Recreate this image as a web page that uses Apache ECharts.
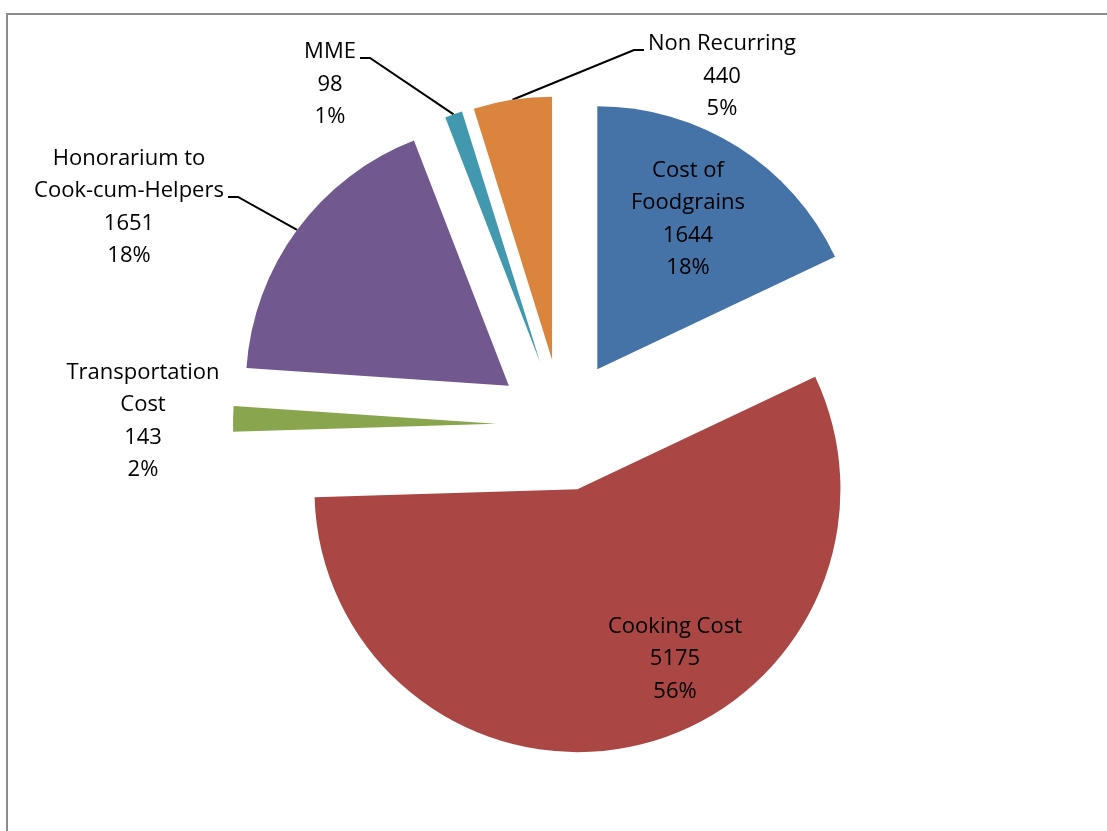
<!DOCTYPE html>
<html>
<head>
<meta charset="utf-8">
<title>MDM cost breakup</title>
<script src="https://cdn.jsdelivr.net/npm/echarts@6/dist/echarts.min.js"></script>
<style>
    html, body { margin: 0; padding: 0; background: #fff; }
    #chart { width: 1107px; height: 831px; }
</style>
</head>
<body>
<div id="chart"></div>
<script>
// 数据
const categories = ['Cost of\nFoodgrains', 'Cooking Cost', 'Transportation\nCost', 'Honorarium to\nCook-cum-Helpers', 'MME', 'Non Recurring'];
const values = [1644, 5175, 143, 1651, 98, 440];
const percents = ['18%', '56%', '2%', '18%', '1%', '5%'];
const colors = ['#4572A7', '#AA4643', '#89A54E', '#71588F', '#4198AF', '#DB843D'];

// 布局
const pieCenter = [562, 425];
const pieRadius = 263;
const explode = 66;
const labelPos = [[688, 219], [675, 659], [143, 421], [129, 197], [330, 58], [722, 50]];
// 标签顶部空行（高、宽），使引导线接在第一行附近并与文字留出间距
const labelGap = [0, 0, 0, 20, 53, 53];
const labelGapWidth = [0, 0, 0, 198, 60, 156];
const showLine = [false, false, false, true, true, true];

const chart = echarts.init(document.getElementById('chart'));

// 每个扇区单独一个系列，沿中心角方向偏移
const total = values.reduce((a, b) => a + b, 0);
let cum = 0;
const series = values.map((v, i) => {
    const mid = (cum + v / 2) / total * Math.PI * 2;
    cum += v;
    const center = [pieCenter[0] + explode * Math.sin(mid), pieCenter[1] - explode * Math.cos(mid)];
    return {
        type: 'pie',
        center: center,
        radius: pieRadius,
        startAngle: 90,
        clockwise: true,
        avoidLabelOverlap: false,
        silent: true,
        itemStyle: { borderWidth: 0 },
        label: {
            fontFamily: '"Open Sans", sans-serif',
            fontSize: 22,
            lineHeight: 32.5,
            color: '#000',
            formatter: p => {
                const text = p.name + '\n' + p.value + '\n' + percents[p.dataIndex];
                return labelGap[p.dataIndex] ? '{gap| }\n' + text : text;
            },
            rich: {
                gap: { fontSize: 1, lineHeight: labelGap[i], width: labelGapWidth[i] }
            }
        },
        labelLine: {
            length: 20,
            length2: 10,
            lineStyle: { color: '#000', width: 2 }
        },
        labelLayout: function (params) {
            if (params.dataIndex !== i) return {};
            const p = labelPos[i];
            return { x: p[0], y: p[1], align: 'center', verticalAlign: 'middle' };
        },
        data: categories.map((name, j) => ({
            name: name,
            value: values[j],
            itemStyle: { color: j === i ? colors[j] : 'rgba(0,0,0,0)' },
            label: { show: j === i, position: i < 2 ? 'inside' : 'outside' },
            labelLine: { show: j === i && showLine[j] }
        }))
    };
});

const option = {
    animation: false,
    graphic: [{
        type: 'rect',
        shape: { x: 7, y: 14, width: 1130, height: 850 },
        style: { fill: 'none', stroke: '#8c8c8c', lineWidth: 2 },
        silent: true
    }],
    series: series
};

chart.setOption(option);
window.addEventListener('resize', () => chart.resize());
</script>
</body>
</html>
